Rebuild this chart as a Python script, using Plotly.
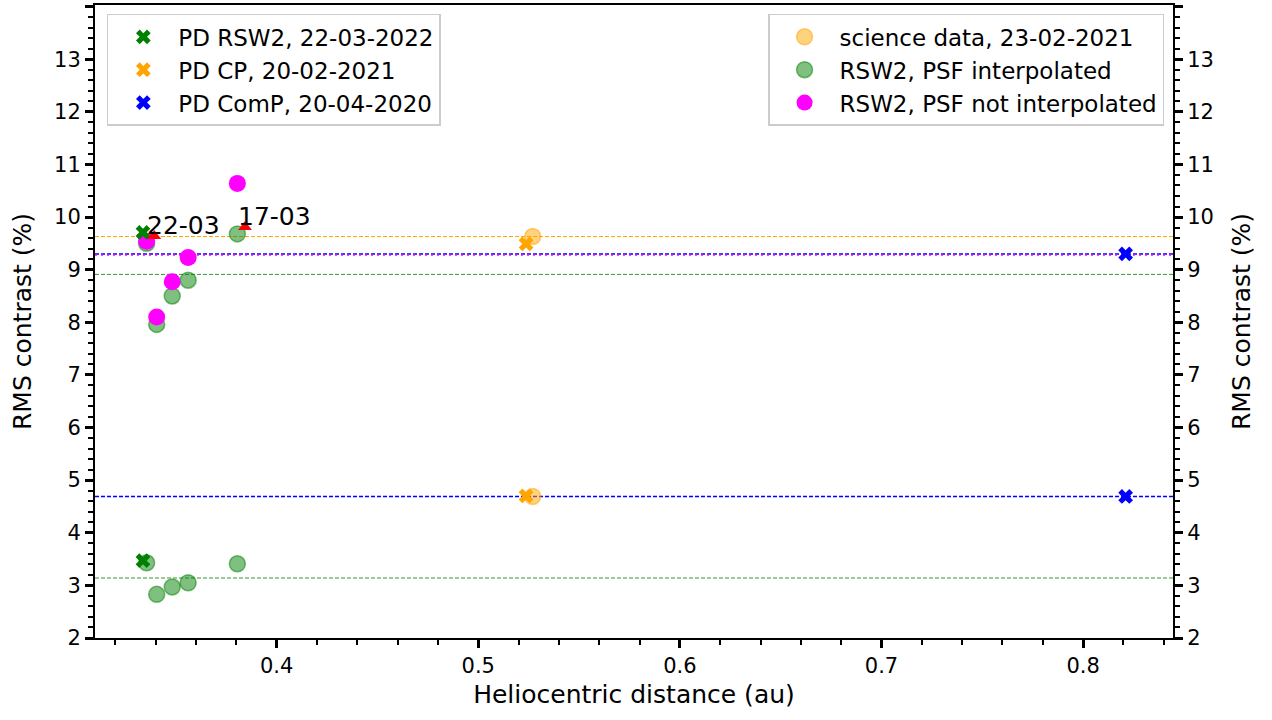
import plotly.graph_objects as go

# ---------------- data ----------------
rsw2_x = [0.3355, 0.3405, 0.3482, 0.3561, 0.3805]
interp_hi = [9.50, 7.96, 8.50, 8.80, 9.68]
interp_lo = [3.43, 2.83, 2.97, 3.05, 3.41]
notinterp_hi = [9.54, 8.10, 8.77, 9.23, 10.64]

pd_rsw2_x = [0.3337, 0.3337]
pd_rsw2_y = [9.71, 3.47]
pd_cp_x = [0.5237, 0.5237]
pd_cp_y = [9.49, 4.70]
pd_comp_x = [0.8211, 0.8211]
pd_comp_y = [9.30, 4.69]

sci_x = [0.5270, 0.5270]
sci_y = [9.63, 4.69]

tri_x = [0.3393, 0.3843]
tri_y = [9.64, 9.81]
tri_labels = ["22-03", "17-03"]
label_x = [0.3357, 0.3807]

# horizontal reference levels
hline_orange = [9.63, 4.69]
hline_blue = [9.30, 4.69]
hline_magenta = [9.28]
hline_green = [8.91, 3.14]

FONT = "DejaVu Sans"
GREEN = "#008000"
ORANGE = "#FFA500"

fig = go.Figure()

# horizontal lines
for v in hline_orange:
    fig.add_hline(y=v, line=dict(color=ORANGE, width=1, dash="4px,2px"), layer="below")
for v in hline_green:
    fig.add_hline(y=v, line=dict(color="rgba(0,128,0,0.8)", width=1, dash="4px,2px"), layer="below")
for v in hline_blue:
    fig.add_hline(y=v, line=dict(color="blue", width=1.5, dash="4px,2px"), layer="below")
for v in hline_magenta:
    fig.add_hline(y=v, line=dict(color="magenta", width=1.5, dash="2px,4px"), layer="below")

# circles
fig.add_trace(go.Scatter(
    x=sci_x, y=sci_y, mode="markers", name="science data, 23-02-2021",
    marker=dict(symbol="circle", size=16, color="rgba(255,165,0,0.5)",
                line=dict(color="rgba(255,165,0,0.5)", width=1.5)),
    legend="legend2"))
fig.add_trace(go.Scatter(
    x=rsw2_x + rsw2_x, y=interp_hi + interp_lo, mode="markers",
    name="RSW2, PSF interpolated",
    marker=dict(symbol="circle", size=16, color="rgba(0,128,0,0.5)",
                line=dict(color="rgba(0,128,0,0.5)", width=1.5)),
    legend="legend2"))
fig.add_trace(go.Scatter(
    x=rsw2_x, y=notinterp_hi, mode="markers",
    name="RSW2, PSF not interpolated",
    marker=dict(symbol="circle", size=17, color="magenta",
                line=dict(color="magenta", width=0)),
    legend="legend2"))

# crosses
fig.add_trace(go.Scatter(
    x=pd_rsw2_x, y=pd_rsw2_y, mode="markers", name="PD RSW2, 22-03-2022",
    marker=dict(symbol="x", size=13, color=GREEN, line=dict(width=0)),
    legend="legend"))
fig.add_trace(go.Scatter(
    x=pd_cp_x, y=pd_cp_y, mode="markers", name="PD CP, 20-02-2021",
    marker=dict(symbol="x", size=13, color=ORANGE, line=dict(width=0)),
    legend="legend"))
fig.add_trace(go.Scatter(
    x=pd_comp_x, y=pd_comp_y, mode="markers", name="PD ComP, 20-04-2020",
    marker=dict(symbol="x", size=13, color="blue", line=dict(width=0)),
    legend="legend"))

# red triangles
fig.add_trace(go.Scatter(
    x=tri_x, y=tri_y, mode="markers", showlegend=False,
    marker=dict(symbol="triangle-up", size=12, color="red", line=dict(width=0))))

for lx, ly, t in zip(label_x, tri_y, tri_labels):
    fig.add_annotation(x=lx, y=ly, text=t, showarrow=False, xanchor="left",
                       yanchor="bottom", yshift=-6, xshift=-2,
                       font=dict(family=FONT, size=25, color="black"))

# dummy trace for right axis
fig.add_trace(go.Scatter(x=[0.5], y=[5], yaxis="y2", mode="markers",
                         marker=dict(opacity=0), showlegend=False, hoverinfo="skip"))

YR = [2, 14.03]
XR = [0.3099, 0.8446]
axis_common = dict(showgrid=False, zeroline=False, linecolor="black", linewidth=2,
                   ticks="outside", tickcolor="black", tickwidth=3, ticklen=8,
                   tickfont=dict(family=FONT, size=21, color="black"))
minor_common = dict(ticks="outside", ticklen=5, tickwidth=1.5, tickcolor="black")

fig.update_layout(
    width=1272, height=720,
    margin=dict(l=95, r=99, t=3, b=82),
    paper_bgcolor="white", plot_bgcolor="white",
    font=dict(family=FONT, color="black"),
    xaxis=dict(range=XR, dtick=0.1, tick0=0, mirror=True,
               title=dict(text="Heliocentric distance (au)", font=dict(family=FONT, size=25),
                          standoff=8),
               minor=dict(dtick=0.02, **minor_common),
               **axis_common),
    yaxis=dict(range=YR, dtick=1, tick0=0,
               title=dict(text="RMS contrast (%)", font=dict(family=FONT, size=25), standoff=15),
               minor=dict(dtick=0.2, **minor_common),
               **axis_common),
    yaxis2=dict(range=YR, dtick=1, tick0=0, overlaying="y", side="right",
                title=dict(text="RMS contrast (%)", font=dict(family=FONT, size=25), standoff=20),
                minor=dict(dtick=0.2, **minor_common),
                **axis_common),
    legend=dict(x=0.011, y=0.986, xanchor="left", yanchor="top", itemwidth=60,
                bgcolor="rgba(255,255,255,0.8)", bordercolor="#cccccc", borderwidth=1.5,
                font=dict(family=FONT, size=23, color="black")),
    legend2=dict(x=0.9917, y=0.986, xanchor="right", yanchor="top", itemwidth=60,
                 bgcolor="rgba(255,255,255,0.8)", bordercolor="#cccccc", borderwidth=1.5,
                 font=dict(family=FONT, size=23, color="black")),
)

fig.write_html("out.html")
